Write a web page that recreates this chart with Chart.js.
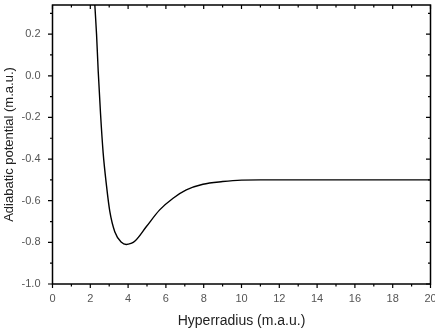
<!DOCTYPE html>
<html>
<head>
<meta charset="utf-8">
<script src="https://cdn.jsdelivr.net/npm/chart.js@4/dist/chart.umd.min.js"></script>
<style>
  html, body { margin: 0; padding: 0; background: #fff; }
  #wrap { width: 435px; height: 330px; }
</style>
</head>
<body>
<div id="wrap"><canvas id="potChart" width="435" height="330"></canvas></div>
<script>
// Curve (hyperradius vs adiabatic potential)
const radius = [2.18, 2.24, 2.33, 2.42, 2.54, 2.68, 2.86, 3.03, 3.3, 3.65, 3.9, 4.15, 4.35, 4.97, 5.67, 6.38, 7.08, 7.96, 9.0, 10.0, 11, 12, 14, 16, 18, 20];
const potential = [0.45, 0.34, 0.2, 0.02, -0.18, -0.37, -0.53, -0.65, -0.75, -0.8, -0.81, -0.805, -0.795, -0.724, -0.644, -0.588, -0.548, -0.521, -0.508, -0.501, -0.5, -0.5, -0.5, -0.5, -0.5, -0.5];

// Axis ticks
const xMajor = [0, 2, 4, 6, 8, 10, 12, 14, 16, 18, 20];
const xMinor = [1, 3, 5, 7, 9, 11, 13, 15, 17, 19];
const yMajor = [-1.0, -0.8, -0.6, -0.4, -0.2, 0.0, 0.2];
const yMinor = [-0.9, -0.7, -0.5, -0.3, -0.1, 0.1, 0.3];

// draw box frame and Origin-style ticks
const frameTicks = {
  id: 'frameTicks',
  afterDatasetsDraw(chart) {
    const { ctx, chartArea: a, scales: { x, y } } = chart;
    ctx.save();
    ctx.strokeStyle = '#000';
    ctx.lineWidth = 1.5;
    ctx.strokeRect(a.left, a.top, a.right - a.left, a.bottom - a.top);
    ctx.lineWidth = 1.2;
    ctx.beginPath();
    const xt = (v, len) => {
      const px = x.getPixelForValue(v);
      ctx.moveTo(px, a.bottom); ctx.lineTo(px, a.bottom + len);
      ctx.moveTo(px, a.top); ctx.lineTo(px, a.top + len);
    };
    const yt = (v, len) => {
      const py = y.getPixelForValue(v);
      ctx.moveTo(a.left, py); ctx.lineTo(a.left - len, py);
      ctx.moveTo(a.right, py); ctx.lineTo(a.right - len, py);
    };
    xMajor.forEach(v => xt(v, 4));
    xMinor.forEach(v => xt(v, 2.5));
    yMajor.forEach(v => yt(v, 4.5));
    yMinor.forEach(v => yt(v, 2.5));
    ctx.stroke();
    ctx.restore();
  }
};

const font = 'Liberation Sans, Arial, sans-serif';

new Chart(document.getElementById('potChart'), {
  type: 'line',
  data: {
    datasets: [{
      data: radius.map((r, i) => ({ x: r, y: potential[i] })),
      borderColor: '#000',
      borderWidth: 1.4,
      pointRadius: 0,
      fill: false,
      cubicInterpolationMode: 'monotone'
    }]
  },
  options: {
    responsive: false,
    animation: false,
    layout: { padding: { top: 5, right: 0, left: 2, bottom: 0 } },
    plugins: { legend: { display: false }, tooltip: { enabled: false } },
    scales: {
      x: {
        type: 'linear',
        min: 0,
        max: 20,
        afterBuildTicks: s => { s.ticks = xMajor.map(v => ({ value: v })); },
        afterFit: s => { s.height = 46; s.paddingLeft = 0; s.paddingRight = 4.5; },
        grid: { display: false },
        border: { display: false },
        ticks: { color: '#555', font: { family: font, size: 11 }, padding: 0, maxRotation: 0 },
        title: { display: true, text: 'Hyperradius (m.a.u.)', color: '#222', font: { family: font, size: 14 }, padding: { top: 0, bottom: 0 } }
      },
      y: {
        min: -1.0,
        max: 0.34,
        afterBuildTicks: s => { s.ticks = yMajor.map(v => ({ value: v })); },
        afterFit: s => { s.width = 50.5; s.paddingTop = 0; s.paddingBottom = 0; },
        grid: { display: false },
        border: { display: false },
        ticks: { color: '#555', font: { family: font, size: 11 }, padding: 4, callback: v => v.toFixed(1) },
        title: { display: true, text: 'Adiabatic potential (m.a.u.)', color: '#222', font: { family: font, size: 13 }, padding: { top: 0, bottom: 4 } }
      }
    }
  },
  plugins: [frameTicks]
});
</script>
</body>
</html>
